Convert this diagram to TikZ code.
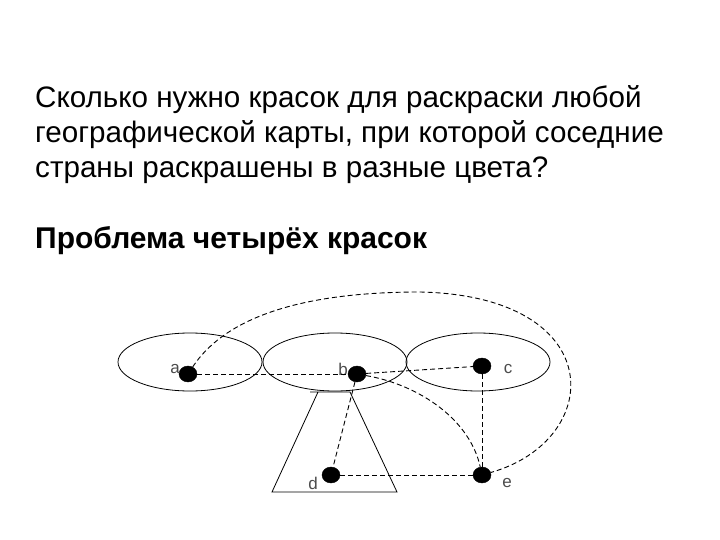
\documentclass[tikz,border=0pt]{standalone}
\usepackage{fontspec}
\setmainfont{Liberation Sans}
\usetikzlibrary{shapes.geometric}
\begin{document}
\begin{tikzpicture}[x=1pt,y=-1pt,
  country/.style={draw,ellipse,line width=0.8pt,minimum width=144pt,minimum height=58pt,inner sep=0pt},
  vert/.style={draw,ellipse,fill=black,minimum width=18pt,minimum height=16pt,inner sep=0pt},
  lbl/.style={text=black!70,font=\fontsize{17}{17}\selectfont,inner sep=0pt},
  edge/.style={dashed,dash pattern=on 5pt off 3pt,line width=0.9pt},
  txt/.style={anchor=base west,inner sep=0pt,font=\fontsize{29.6}{29.6}\selectfont}]
\useasboundingbox (0,0) rectangle (720,540);
\node[txt] (t1) at (35,108) {Сколько нужно красок для раскраски любой};
\node[txt] (t2) at (35,143) {географической карты, при которой соседние};
\node[txt] (t3) at (35,178) {страны раскрашены в разные цвета?};
\node[txt,font=\fontsize{30}{30}\selectfont\bfseries] (t4) at (35,248) {Проблема четырёх красок};
% countries
\node[country] (A) at (190,362) {};
\node[country] (B) at (335,362) {};
\node[country] (C) at (478,362) {};
\draw[line width=0.8pt] (310,392) -- (350,392) -- (397,492) -- (272,492) -- (318,392);
% vertices
\node[vert] (a) at (188,374) {};
\node[vert] (b) at (357,374) {};
\node[vert] (c) at (482,366) {};
\node[vert] (d) at (331,475) {};
\node[vert] (e) at (482,475) {};
\node[lbl] (la) at (175,369) {a};
\node[lbl] (lb) at (343,369) {b};
\node[lbl] (lc) at (508,369) {c};
\node[lbl] (ld) at (313,483) {d};
\node[lbl] (le) at (507,483) {e};
% edges
\draw[edge] (a) -- (b);
\draw[edge] (b) -- (c);
\draw[edge] (b) -- (d);
\draw[edge] (d) -- (e);
\draw[edge] (c) -- (e);
\draw[edge] (b) .. controls (420,385) and (470,420) .. (e);
\coordinate (top) at (420,292);
\draw[edge] (a) .. controls (225,318) and (300,292) .. (top)
  .. controls (610,296) and (605,440) .. (e);
\end{tikzpicture}
\end{document}
